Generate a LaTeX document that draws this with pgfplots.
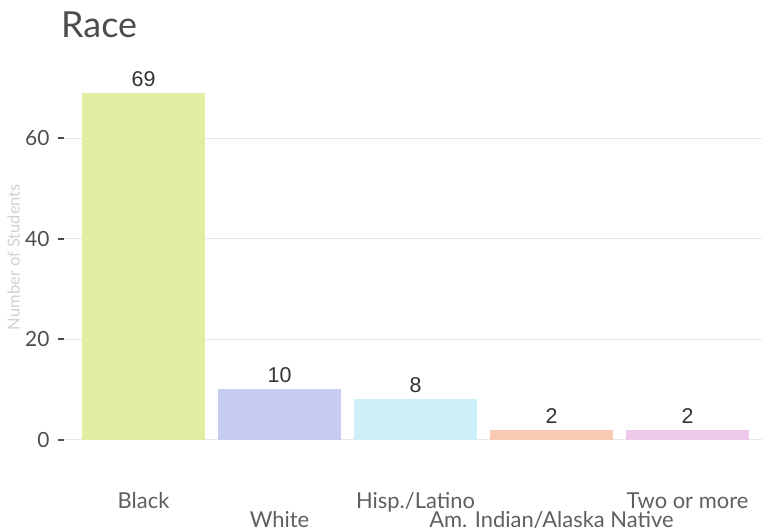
\documentclass[border=0pt]{standalone}
\usepackage{pgfplots}
\pgfplotsset{compat=1.18}
\usepackage{fontspec}
\setmainfont{Lato}
\newfontfamily\arialfont{Liberation Sans}
\definecolor{cBlack}{HTML}{E0EFA4}
\definecolor{cWhite}{HTML}{C7CCF0}
\definecolor{cHisp}{HTML}{CCEFF8}
\definecolor{cAmInd}{HTML}{F9CBB4}
\definecolor{cTwo}{HTML}{EEC8EA}
\definecolor{txtgrey}{HTML}{4D4D4D}
\definecolor{gridgrey}{HTML}{E8E8E8}
\begin{document}
\begin{tikzpicture}
\useasboundingbox (0,0) rectangle (762bp,531bp);
\node[anchor=base west, text=txtgrey, font=\fontsize{36}{40}\selectfont, inner sep=0pt] at (61bp,493bp) {Race};
\begin{axis}[
  at={(64bp,74bp)}, anchor=south west,
  scale only axis, width=698bp, height=381.5bp,
  ybar, bar width=0.9, bar shift=0pt,
  xmin=-0.585, xmax=4.548,
  ymin=-3.45, ymax=72.45,
  axis line style={draw=none},
  ymajorgrids, grid style={gridgrey, line width=0.8pt},
  ytick={0,20,40,60},
  xtick={0,2,4},
  xticklabels={Black,Hisp./Latino,Two or more},
  extra x ticks={1,3},
  extra x tick labels={White,Am. Indian/Alaska Native},
  extra x tick style={grid=none, xticklabel style={yshift=-19bp}},
  xtick style={draw=none},
  ytick style={draw=txtgrey, line width=1.8pt},
  tick align=outside, major tick length=6bp,
  /pgf/number format/assume math mode=true,
  yticklabel style={text=txtgrey, font=\fontsize{21}{24}\selectfont, xshift=-5bp},
  xticklabel style={text=txtgrey!90, font=\fontsize{22}{24}\selectfont, anchor=north, inner sep=1bp, yshift=-28.3bp},
  ylabel={Number of Students},
  ylabel style={at={(axis description cs:-0.072,0.524)}, anchor=center, rotate=0, text=black!18, font=\fontsize{16.5}{18}\selectfont},
  nodes near coords,
  every node near coord/.append style={text=black!80, font=\arialfont\fontsize{21.5}{24}\selectfont, yshift=3bp},
  clip=false,
]
\addplot[fill=cBlack, draw=none] coordinates {(0,69)};
\addplot[fill=cWhite, draw=none] coordinates {(1,10)};
\addplot[fill=cHisp, draw=none] coordinates {(2,8)};
\addplot[fill=cAmInd, draw=none] coordinates {(3,2)};
\addplot[fill=cTwo, draw=none] coordinates {(4,2)};
\end{axis}
\end{tikzpicture}
\end{document}
